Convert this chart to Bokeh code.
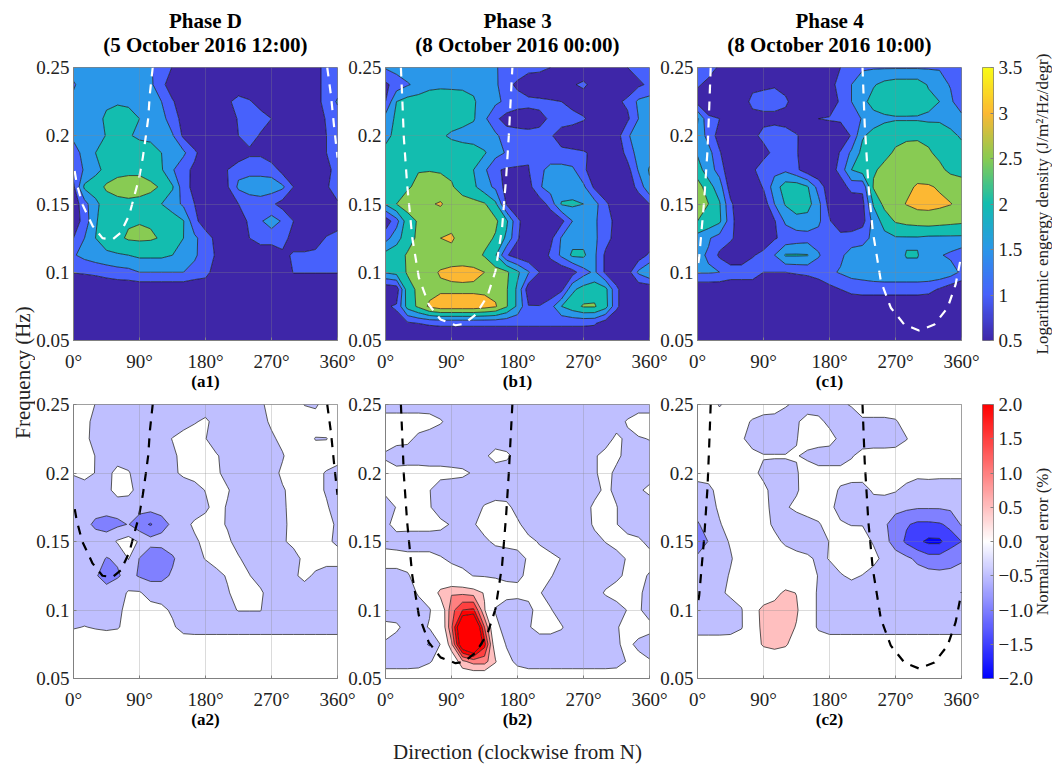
import numpy as np
from bokeh.embed import file_html
from bokeh.layouts import column, row
from bokeh.models import FixedTicker, LinearColorMapper, Title
from bokeh.plotting import figure
from bokeh.resources import INLINE

DIRS = list(range(0, 361, 15))
FREQ = [.25, .2375, .225, .2125, .2, .1875, .175, .1625, .15, .1375, .125, .1125, .1, .0875, .075, .0625, .05]

A1 = [
 [1.7,1.8,1.8,1.8,1.8,1.8,1.7,1.55,1.25,.98,.6,.6,.6,.6,.6,.6,.6,.6,.6,.6,.6,.6,.8,1.2,1.2],
 [1.45,1.7,1.8,1.8,1.8,1.8,1.75,1.6,1.15,.7,.6,.6,.6,.6,.6,.6,.6,.6,.6,.6,.6,.6,.8,1.2,1.3],
 [1.6,1.7,1.85,1.95,1.95,1.9,1.8,1.7,1.5,1.05,.7,.6,.6,.6,.9,1.2,1.05,.8,.6,.6,.6,.6,.8,1.2,1.55],
 [1.6,1.7,1.9,2.05,2.2,2.2,2.0,1.8,1.7,1.2,.85,.6,.6,.6,.7,1.05,1.25,1.2,1.0,.7,.6,.6,.7,1.05,1.3],
 [1.6,1.7,1.85,2.02,2.2,2.05,1.9,1.85,1.75,1.55,.9,.6,.6,.6,.6,1.0,1.2,.95,.6,.6,.6,.6,.7,1.0,1.2],
 [1.3,1.65,2.0,2.15,2.3,2.3,2.3,2.25,2.0,1.75,1.6,1.1,.7,.6,.6,.6,.9,.9,.6,.6,.6,.6,.75,1.0,1.3],
 [1.2,1.55,1.9,2.1,2.3,2.35,2.4,2.3,2.05,1.55,1.15,.9,.6,.75,1.0,1.35,1.35,1.35,1.3,.8,.6,.6,.6,.85,1.2],
 [.9,2.1,2.2,2.6,2.75,2.8,2.7,2.6,2.45,2.05,1.2,.85,.6,.6,.95,1.6,1.75,1.75,1.75,1.6,1.0,.6,.6,.95,1.2],
 [.7,1.3,1.9,2.2,2.3,2.35,2.35,2.3,2.0,1.75,1.4,1.0,.6,.6,.85,1.0,1.2,1.3,1.1,.8,.6,.6,.6,.6,.95],
 [.7,1.2,1.95,2.25,2.35,2.45,2.48,2.45,2.35,2.25,2.02,1.15,.7,.6,.6,.7,1.1,1.45,1.7,1.45,1.0,.7,.6,.6,.6],
 [1.0,1.5,2.0,2.25,2.4,2.56,2.58,2.56,2.46,2.2,2.0,1.6,1.25,.85,.6,.6,1.0,1.25,1.25,1.2,.8,.6,.7,1.05,1.3],
 [1.45,1.65,1.8,1.9,1.95,2.0,2.1,2.1,2.1,2.0,1.85,1.6,1.2,.95,.6,.6,.6,.6,.6,.9,1.05,1.1,1.15,1.25,1.3],
 [1.02,1.05,1.1,1.2,1.3,1.35,1.5,1.5,1.5,1.5,1.5,1.3,1.2,.7,.6,.6,.6,.6,.6,.7,1.02,1.02,1.02,1.02,1.02],
 [.6]*25, [.6]*25, [.6]*25, [.6]*25,
]

B1 = [
 [1.55,1.7,1.8,1.9,1.9,1.85,1.85,1.8,1.75,1.7,1.55,1.3,1.3,1.2,1.15,1.0,.7,.6,.6,.6,.7,.85,1.0,1.2,1.3],
 [.9,1.2,1.45,1.65,1.85,1.9,1.9,1.9,1.9,1.85,1.6,1.15,.9,.6,.6,.6,.6,.95,1.1,.8,.6,.6,.7,.9,1.1],
 [1.0,2.0,2.2,2.25,2.3,2.3,2.25,2.2,2.05,1.8,1.6,1.4,1.2,1.15,1.1,1.05,1.0,.8,.7,.65,.7,.9,1.1,1.6,1.7],
 [1.7,2.1,2.3,2.3,2.3,2.3,2.3,2.2,2.05,1.6,1.1,.8,.75,.75,.9,1.05,1.2,1.2,1.05,.8,.7,.7,.9,1.5,1.7],
 [1.9,2.1,2.2,2.25,2.3,2.1,1.9,1.8,1.75,1.7,1.6,1.25,1.2,1.15,1.1,1.05,.8,.65,.6,.6,.6,.75,1.45,1.7,1.75],
 [2.1,2.15,2.2,2.3,2.35,2.35,2.35,2.3,2.25,2.05,1.7,1.45,1.2,1.05,1.1,1.1,1.1,1.1,1.05,.9,.65,.6,1.2,1.7,1.8],
 [2.1,2.2,2.4,2.48,2.48,2.45,2.4,2.3,2.0,1.6,1.05,.95,.95,.98,1.35,1.7,1.7,1.6,1.1,.7,.6,.6,.8,1.55,2.05],
 [2.1,2.2,2.45,2.6,2.7,2.7,2.55,2.3,2.1,1.7,1.4,.8,.6,.8,1.45,1.7,1.7,1.7,1.6,.9,.6,.6,.7,1.15,1.9],
 [2.05,2.5,2.7,2.8,2.95,3.05,2.8,2.7,2.65,2.55,2.1,.95,.6,.6,.7,1.2,2.05,2.1,2.0,1.7,1.1,.7,.6,.7,1.0],
 [.7,1.3,2.3,2.55,2.65,2.7,2.75,2.75,2.7,2.7,2.6,2.1,1.1,.7,.6,.6,.85,1.5,1.9,1.6,1.15,.9,.6,.6,.7],
 [1.3,1.8,2.3,2.6,2.7,3.0,3.1,2.7,2.7,2.65,2.45,1.9,1.05,.65,.6,.85,1.55,1.8,1.8,1.6,1.2,.8,.6,.6,.6],
 [2.2,2.3,2.55,2.7,2.7,2.7,2.75,2.75,2.7,2.45,2.05,1.05,.75,.6,.6,1.1,1.6,2.1,2.1,1.6,.9,.65,.6,.7,1.1],
 [2.05,2.2,2.55,2.65,2.85,3.05,3.12,3.15,3.12,3.0,2.7,2.6,2.1,1.55,1.0,.65,.6,.8,1.3,1.6,.9,.65,.75,1.6,2.0],
 [.6,.7,2.3,2.6,2.8,2.9,2.9,2.9,2.9,2.9,2.85,2.55,1.9,.7,.6,.6,.85,1.9,2.2,2.3,2.15,1.1,.6,.6,.6],
 [.95,1.05,2.2,2.6,3.1,3.3,3.3,3.3,3.3,3.2,3.05,2.55,1.9,1.02,1.02,1.3,2.0,2.3,2.55,2.55,2.2,1.1,.6,.6,.6],
 [.85,.85,.9,1.0,1.05,1.08,1.08,1.08,1.08,1.08,1.08,1.08,1.08,1.08,1.08,1.08,1.08,1.08,1.08,1.05,.7,.6,.6,.6,.6],
 [.6]*25,
]

C1 = [
 [1.2,1.15,.95,.6,.6,.6,.6,.6,.6,.6,.6,.6,.6,1.0,1.3,1.45,1.45,1.45,1.45,1.45,1.45,1.45,1.45,1.35,1.2],
 [1.05,.9,.6,.6,.6,.85,.9,.95,.8,.6,.6,.6,.7,1.3,1.5,1.7,1.95,2.15,2.25,2.25,2.25,1.95,1.75,1.45,1.1],
 [.8,.6,.6,.6,.7,1.15,1.2,1.2,1.1,.7,.6,.6,.6,1.1,1.5,1.85,2.2,2.3,2.3,2.3,2.25,2.15,2.0,1.65,1.0],
 [2.05,1.1,1.0,.6,.6,.8,.85,.85,.8,.6,.75,1.0,1.05,1.1,1.2,1.55,1.8,1.9,1.95,1.95,1.95,1.9,1.9,1.85,1.75],
 [1.9,1.3,.8,.6,.6,.85,1.15,1.25,1.2,1.05,.7,.6,.6,.6,1.05,1.95,2.15,2.3,2.4,2.4,2.4,2.4,2.35,2.1,1.95],
 [1.95,1.7,1.05,.6,.6,.6,.8,1.15,1.3,1.05,.6,.6,.6,1.05,1.6,2.15,2.3,2.4,2.55,2.7,2.75,2.55,2.4,2.3,2.15],
 [2.2,1.75,1.3,.6,.6,.9,1.3,1.35,1.4,1.1,.7,.6,.7,1.2,2.0,2.25,2.45,2.6,2.7,2.75,2.8,2.7,2.6,2.4,2.35],
 [2.75,2.2,1.75,.75,.6,.65,1.05,1.75,2.25,2.3,2.05,1.3,.7,.7,1.2,1.1,2.55,2.7,2.8,2.9,3.05,3.05,2.95,2.8,2.7],
 [2.8,2.5,2.05,1.1,.6,.6,.7,1.5,2.05,2.3,2.2,1.65,.8,.6,.6,.85,2.05,2.65,2.85,3.02,3.15,3.15,3.1,3.02,2.85],
 [2.5,2.35,2.1,1.2,.6,.6,.6,.95,1.6,1.8,1.8,1.6,1.05,.6,.6,.8,1.7,2.2,2.55,2.65,2.7,2.75,2.7,2.65,2.6],
 [1.8,1.55,1.3,1.1,.7,.6,.65,.95,1.15,1.25,1.3,1.3,1.15,1.2,1.25,1.35,1.6,1.85,1.95,1.95,1.95,1.9,1.9,1.9,1.9],
 [1.6,1.45,.9,.6,.6,.95,1.15,1.5,2.05,2.05,2.03,1.55,1.2,1.4,1.7,1.7,1.7,1.75,1.85,2.02,2.02,1.8,1.55,1.4,1.2],
 [1.55,1.55,1.5,1.3,1.3,1.3,1.0,1.0,1.0,1.05,1.1,1.2,1.4,1.55,1.7,1.75,1.85,1.9,1.9,1.9,1.9,1.9,1.9,1.75,1.4],
 [.6,.6,.6,.6,.6,.6,.6,.6,.6,.6,.6,.7,.85,1.0,1.15,1.2,1.2,1.2,1.2,1.2,1.2,1.15,.95,.7,.6],
 [.6]*25, [.6]*25, [.6]*25,
]

A2 = [
 [-.2,-.2,-.52,-.8,-.8,-.8,-.8,-.8,-.8,-.8,-.8,-.8,-.8,-.8,-.8,-.8,-.8,-.6,-.3,-.2,-.2,-.52,-.6,-.2,-.2],
 [-.2,-.3,-.7,-.8,-.8,-.8,-.8,-.8,-.8,-.8,-.8,-.55,-.4,-.7,-.8,-.8,-.8,-.7,-.4,-.2,-.2,-.2,-.2,-.2,-.2],
 [-.2,-.35,-.7,-.8,-.8,-.8,-.8,-.8,-.7,-.48,-.2,-.2,-.48,-.8,-.8,-.8,-.8,-.8,-.6,-.35,-.2,-.2,-.53,-.52,-.2],
 [-.2,-.2,-.52,-.75,-.8,-.8,-.8,-.8,-.8,-.6,-.35,-.2,-.25,-.45,-.7,-.8,-.8,-.8,-.8,-.55,-.2,-.2,-.2,-.2,-.2],
 [-.45,-.3,-.52,-.7,-.3,-.45,-.8,-.8,-.8,-.6,-.4,-.3,-.3,-.4,-.7,-.8,-.8,-.8,-.7,-.4,-.3,-.3,-.35,-.55,-.75],
 [-.8,-.8,-.8,-.65,-.3,-.35,-.7,-.8,-.8,-.8,-.8,-.7,-.48,-.3,-.45,-.75,-.8,-.8,-.8,-.55,-.35,-.3,-.35,-.55,-.65],
 [-.8,-.8,-.8,-.8,-.8,-.8,-.8,-.8,-.8,-.8,-.8,-.8,-.6,-.3,-.55,-.8,-.8,-.8,-.8,-.55,-.4,-.3,-.3,-.45,-.7],
 [-.8,-.85,-1.1,-1.2,-1.1,-.98,-1.3,-1.55,-1.2,-.9,-.7,-.4,-.3,-.35,-.55,-.8,-.8,-.8,-.8,-.6,-.35,-.3,-.3,-.4,-.55],
 [-.8,-.75,-.75,-.75,-.45,-.3,-.55,-.8,-.8,-.8,-.75,-.6,-.35,-.3,-.4,-.7,-.8,-.8,-.8,-.55,-.4,-.3,-.3,-.4,-.6],
 [-.8,-.8,-.85,-1.02,-.95,-.48,-1.02,-1.4,-1.35,-1.05,-.8,-.65,-.48,-.3,-.3,-.45,-.7,-.8,-.8,-.8,-.65,-.4,-.25,-.25,-.25],
 [-.85,-.85,-.95,-1.2,-1.05,-.85,-1.05,-1.15,-1.1,-.95,-.85,-.8,-.75,-.65,-.45,-.3,-.48,-.75,-.8,-.8,-.6,-.35,-.6,-.8,-.8],
 [-.8,-.8,-.8,-.8,-.7,-.45,-.45,-.7,-.8,-.8,-.8,-.8,-.8,-.8,-.55,-.3,-.3,-.4,-.8,-.8,-.8,-.8,-.8,-.8,-.8],
 [-.8,-.8,-.8,-.8,-.65,-.3,-.3,-.3,-.35,-.6,-.8,-.8,-.8,-.8,-.6,-.48,-.48,-.48,-.8,-.8,-.8,-.8,-.8,-.8,-.8],
 [-.55,-.48,-.55,-.6,-.55,-.3,-.3,-.3,-.3,-.4,-.75,-.8,-.8,-.8,-.8,-.8,-.8,-.8,-.8,-.8,-.8,-.8,-.8,-.8,-.8],
 [-.1]*25, [-.1]*25, [-.1]*25,
]

B2 = [
 [-.8]*25,
 [-.2,-.2,-.2,-.2,-.25,-.45,-.7,-.8,-.8,-.8,-.8,-.8,-.8,-.8,-.8,-.8,-.8,-.8,-.8,-.8,-.8,-.7,-.45,-.2,-.2],
 [-.35,-.3,-.35,-.65,-.8,-.8,-.8,-.8,-.8,-.8,-.8,-.8,-.8,-.8,-.8,-.8,-.8,-.8,-.8,-.8,-.7,-.4,-.6,-.55,-.48],
 [-.55,-.8,-.8,-.8,-.8,-.8,-.8,-.8,-.8,-.6,-.3,-.4,-.65,-.8,-.8,-.8,-.8,-.8,-.7,-.55,-.35,-.4,-.65,-.7,-.7],
 [-.35,-.3,-.25,-.25,-.3,-.3,-.35,-.4,-.55,-.75,-.8,-.8,-.8,-.8,-.8,-.8,-.8,-.8,-.7,-.55,-.35,-.6,-.8,-.8,-.8],
 [-.4,-.25,-.25,-.3,-.48,-.8,-.8,-.8,-.8,-.8,-.8,-.8,-.8,-.8,-.8,-.8,-.8,-.8,-.8,-.65,-.4,-.6,-.8,-.6,-.35],
 [-.7,-.48,-.25,-.25,-.45,-.8,-.8,-.8,-.75,-.45,-.3,-.35,-.7,-.8,-.8,-.8,-.8,-.8,-.7,-.4,-.35,-.48,-.75,-.85,-.85],
 [-.6,-.35,-.3,-.3,-.3,-.35,-.55,-.75,-.55,-.3,-.3,-.3,-.4,-.75,-.8,-.8,-.8,-.8,-.8,-.4,-.35,-.48,-.75,-.8,-.8],
 [-.65,-.7,-.8,-.8,-.8,-.8,-.8,-.8,-.75,-.6,-.4,-.35,-.35,-.35,-.55,-.75,-.8,-.8,-.8,-.7,-.48,-.3,-.3,-.4,-.65],
 [-.3,-.3,-.3,-.3,-.3,-.45,-.6,-.75,-.8,-.8,-.8,-.75,-.65,-.45,-.3,-.35,-.52,-.8,-.8,-.8,-.8,-.7,-.45,-.3,-.3],
 [-.65,-.65,-.55,-.3,-.25,-.25,-.25,-.3,-.52,-.55,-.55,-.6,-.6,-.4,-.35,-.45,-.75,-.8,-.8,-.8,-.7,-.6,-.4,-.35,-.55],
 [-.8,-.8,-.7,-.45,-.1,.7,.95,.9,.8,.45,-.2,-.3,-.35,-.4,-.45,-.75,-.8,-.8,-.8,-.7,-.45,-.3,-.3,-.4,-.7],
 [-.8,-.8,-.8,-.7,-.55,.0,1.3,2.0,2.1,.55,-.55,-.8,-.8,-.6,-.35,-.45,-.8,-.8,-.8,-.8,-.8,-.7,-.48,-.4,-.8],
 [-.35,-.4,-.7,-.7,-.45,-.1,1.4,3.5,3.8,1.5,-.3,-.8,-.75,-.55,-.3,-.3,-.45,-.8,-.8,-.8,-.8,-.55,-.3,-.3,-.3],
 [-.55,-.75,-.8,-.8,-1.05,-.48,.9,3.2,4.0,2.2,.0,-.55,-.8,-.8,-.8,-.8,-.8,-.8,-.8,-.8,-.8,-.55,-.4,-.6,-.8],
 [-.8,-.8,-.8,-.75,-.55,-.3,-.1,.9,1.2,1.2,.55,-.3,-.65,-.8,-.8,-.8,-.8,-.8,-.8,-.8,-.8,-.75,-.45,-.35,-.45],
 [-.1]*25,
]

C2 = [
 [-.2,-.2,-.55,-.3,-.2,-.2,-.2,-.2,-.45,-.6,-.7,-.7,-.7,-.6,-.45,-.2,-.2,-.2,-.2,-.2,-.2,-.2,-.2,-.2,-.2],
 [-.2,-.2,-.2,-.2,-.35,-.55,-.7,-.75,-.75,-.55,-.35,-.4,-.6,-.8,-.8,-.6,-.6,-.6,-.55,-.3,-.2,-.2,-.2,-.2,-.2],
 [-.2,-.2,-.2,-.2,-.45,-.65,-.8,-.8,-.8,-.52,-.3,-.3,-.35,-.6,-.8,-.8,-.8,-.8,-.75,-.52,-.25,-.2,-.2,-.2,-.2],
 [-.2,-.2,-.2,-.2,-.2,-.4,-.47,-.47,-.47,-.47,-.6,-.7,-.7,-.7,-.55,-.3,-.25,-.25,-.25,-.25,-.2,-.2,-.2,-.2,-.2],
 [-.25,-.25,-.2,-.2,-.2,-.4,-.6,-.65,-.65,-.55,-.25,-.35,-.35,-.35,-.25,-.2,-.2,-.2,-.2,-.2,-.35,-.35,-.35,-.35,-.35],
 [-.75,-.65,-.3,-.2,-.2,-.25,-.4,-.65,-.65,-.55,-.3,-.25,-.35,-.55,-.7,-.75,-.4,-.35,-.45,-.7,-.8,-.75,-.8,-.8,-.8],
 [-.8,-.75,-.4,-.25,-.2,-.3,-.4,-.6,-.55,-.4,-.25,-.25,-.4,-.65,-.8,-.8,-.8,-.85,-.9,-.9,-.95,-.95,-.95,-.9,-.8],
 [-1.05,-.8,-.55,-.25,-.2,-.2,-.3,-.6,-.7,-.75,-.7,-.55,-.3,-.45,-.52,-.52,-.65,-.95,-1.15,-1.45,-1.6,-1.6,-1.55,-1.4,-.95],
 [-1.3,-.98,-.7,-.45,-.2,-.2,-.2,-.35,-.6,-.75,-.8,-.75,-.48,-.25,-.25,-.3,-.55,-.85,-1.2,-1.6,-1.9,-2.1,-2.1,-1.7,-1.5],
 [-.9,-.8,-.75,-.55,-.25,-.2,-.2,-.2,-.2,-.3,-.4,-.6,-.48,-.25,-.2,-.2,-.35,-.65,-.8,-.9,-1.1,-1.3,-1.3,-1.2,-1.05],
 [-.75,-.8,-.7,-.45,-.2,-.2,-.2,-.2,-.2,-.2,-.3,-.52,-.65,-.55,-.4,-.52,-.7,-.8,-.8,-.8,-.8,-.8,-.85,-.85,-.85],
 [-.8,-.8,-.6,-.4,-.2,-.1,.0,.25,.65,.48,-.1,-.6] + [-.8]*13,
 [-.8,-.8,-.8,-.75,-.55,.2,.7,.8,.85,.6,-.1,-.6] + [-.8]*13,
 [-.85,-.85,-.85,-.8,-.55,.1,.7,.8,.8,.45,-.1,-.6] + [-.8]*13,
 [-.1,-.1,-.1,-.1,-.1,.1,.6,.75,.6,.1] + [-.1]*15,
 [-.1]*25, [-.1]*25,
]

# Ridge curves (direction in degrees, frequency in Hz)
A_MAIN_D = [108,104,102,99,94.5,89.5,83.5,76,64.5,53,39.5,26,12,4.5,0]
A_MAIN_F = [.25,.23,.2133,.201,.184,.169,.157,.142,.129,.124,.125,.134,.15,.165,.179]
A_WRAP_D = [346,351,355.5,360]
A_WRAP_F = [.25,.23,.206,.184]
B_MAIN_D = [21,23,25,29.5,36.5,45.5,59,75,95.5,107,123,139,150,159,164.5,168,173]
B_MAIN_F = [.25,.2255,.1987,.1644,.1253,.096,.0764,.0654,.0612,.0622,.069,.0825,.1009,.1326,.1693,.1987,.25]
C_WRAP_D = [18,16,13.6,9,2.3,0]
C_WRAP_F = [.25,.2207,.1889,.152,.1106,.103]
C_MAIN_D = [225,228,233,239,250,263.6,282,302,323,341,352,360]
C_MAIN_F = [.25,.2084,.1644,.1302,.0936,.074,.0617,.0573,.0617,.074,.0911,.113]

TOP_LEVELS = [.5, 1, 1.5, 2, 2.5, 3, 3.5]
TOP_FILL = ["#3E26A8", "#4761FC", "#2A97E9", "#13BDAF", "#88CB53", "#FCB833"]
ERR_LEVELS = [-2.5, -2, -1.5, -1, -.5, .5, 1, 1.5, 2, 2.5, 5]
ERR_FILL = ["#0000FF", "#4040FF", "#8080FF", "#BFBFFF", "#FFFFFF", "#FFBFBF", "#FF8080", "#FF4040", "#FF0000", "#FF0000"]
XTICKS = [0, 90, 180, 270, 360]
XLABELS = ["0°", "90°", "180°", "270°", "360°"]
YTICKS = [.05, .1, .15, .2, .25]
YLABELS = ["0.05", "0.1", "0.15", "0.2", "0.25"]
TOP_BAR_STOPS = [.5, 1, 1.5, 2, 2.5, 3, 3.5]
TOP_BAR_COLORS = ["#3E26A8", "#4761FC", "#2A97E9", "#13BDAF", "#88CB53", "#FCB833", "#F9FB15"]
TOP_TICKS = [.5, 1, 1.5, 2, 2.5, 3, 3.5]
TOP_TICK_TEXT = ["0.5", "1", "1.5", "2", "2.5", "3", "3.5"]
ERR_TICKS = [-2, -1.5, -1, -.5, 0, .5, 1, 1.5, 2]
ERR_TICK_TEXT = ["−2.0", "−1.5", "−1.0", "−0.5", "0.0", "0.5", "1.0", "1.5", "2.0"]
PHASES = ["Phase D", "Phase 3", "Phase 4"]
DATES = ["(5 October 2016 12:00)", "(8 October 2016 00:00)", "(8 October 2016 10:00)"]

SERIF = "Liberation Serif"
GREY = "#808080"
INK = "#222222"
FRAME_W, F1_H, F2_H = 264, 273, 274
CAP_H, CAP_OVER = 33, 17
TOP1, BOT1, TOP2, BOT2 = 51, 59, 13, 57
OVERLAP = 8
XLAB_H = 30
RIGHT = 20
H = CAP_H - CAP_OVER + TOP1 + F1_H + BOT1 + TOP2 + F2_H + BOT2 - OVERLAP + XLAB_H


def blend(stops, colors, n=256):
    rgb = np.array([[int(c[i:i + 2], 16) for i in (1, 3, 5)] for c in colors], float)
    xs = np.linspace(stops[0], stops[-1], n)
    ch = [np.interp(xs, stops, rgb[:, k]) for k in range(3)]
    return ["#%02X%02X%02X" % (round(r), round(g), round(b)) for r, g, b in zip(*ch)]


def style_axes(p):
    for ax in (p.xaxis[0], p.yaxis[0]):
        ax.axis_line_color = GREY
        ax.major_tick_line_color = GREY
        ax.minor_tick_line_color = None
        ax.major_tick_in, ax.major_tick_out = 3, 0
        ax.major_label_text_font = SERIF
        ax.major_label_text_font_size = "19px"
        ax.major_label_text_color = INK
    p.xaxis[0].major_label_standoff = 10
    p.yaxis[0].major_label_standoff = 4


def panel(z, levels, fill, curves, dash_color, first, top, tag, title=None):
    frame_h = F1_H if top else F2_H
    btop, bbot = (TOP1, BOT1) if top else (TOP2, BOT2)
    bleft = 44 if first else 48
    mtop = -CAP_OVER if top else -OVERLAP
    p = figure(width=bleft + FRAME_W + RIGHT, height=btop + frame_h + bbot,
               x_range=(0, 360), y_range=(.05, .25), output_backend="svg", toolbar_location=None,
               min_border_left=bleft, min_border_right=RIGHT, min_border_top=btop, min_border_bottom=bbot,
               border_fill_color=None, background_fill_color=None,
               outline_line_color=GREY, outline_line_width=1,
               margin=(mtop, 0, 0, -6) if first else (mtop, 0, 0, -RIGHT))
    arr = np.array(z, float)[::-1]
    p.contour(DIRS, FREQ[::-1], arr, levels, fill_color=fill, line_color="#111111", line_width=0.7)
    for d, f in curves:
        p.line(d, f, line_color=dash_color, line_width=2.2, line_dash="9 8")
    p.xaxis.ticker = FixedTicker(ticks=XTICKS)
    p.yaxis.ticker = FixedTicker(ticks=YTICKS)
    p.xaxis.major_label_overrides = dict(zip(XTICKS, XLABELS))
    p.yaxis.major_label_overrides = dict(zip(YTICKS, YLABELS))
    p.xgrid.ticker = FixedTicker(ticks=XTICKS)
    p.ygrid.ticker = FixedTicker(ticks=YTICKS)
    p.grid.grid_line_color = "#888888"
    p.grid.grid_line_alpha = 0.3
    p.grid.level = "overlay"
    style_axes(p)
    ax = p.xaxis[0]
    ax.axis_label = tag
    ax.axis_label_text_font = SERIF
    ax.axis_label_text_font_size = "17px"
    ax.axis_label_text_font_style = "bold"
    ax.axis_label_text_color = "#000000"
    ax.axis_label_standoff = -3
    if title:
        p.add_layout(Title(text=title, align="center", text_font=SERIF, text_font_size="21px",
                           text_font_style="bold", text_color="#000000", standoff=21), "above")
    return p


def strip(width, height, left, right, top, bottom, margin=(0, 0, 0, 0)):
    p = figure(width=width, height=height, x_range=(0, 1), y_range=(0, 1), output_backend="svg",
               toolbar_location=None, min_border_left=left, min_border_right=right, min_border_top=top,
               min_border_bottom=bottom, outline_line_color=None, x_axis_type=None, y_axis_type=None,
               border_fill_color=None, background_fill_color=None, margin=margin)
    p.grid.visible = False
    return p


def cap(text, first):
    bleft = 44 if first else 48
    p = strip(bleft + FRAME_W + RIGHT, CAP_H, bleft, RIGHT, CAP_H - 1, 0,
              (0, 0, 0, -6) if first else (0, 0, 0, -RIGHT))
    p.add_layout(Title(text=text, align="center", text_font=SERIF, text_font_size="21px",
                       text_font_style="bold", text_color="#000000", standoff=0), "above")
    return p


def bar(low, high, palette, ticks, texts, top):
    frame_h = F1_H if top else F2_H
    btop, bbot = (TOP1, BOT1) if top else (TOP2, BOT2)
    p = figure(width=1 + 11 + 46, height=btop + frame_h + bbot, x_range=(0, 1), y_range=(low, high),
               output_backend="svg", toolbar_location=None, y_axis_location="right",
               min_border_left=1, min_border_right=46, min_border_top=btop, min_border_bottom=bbot,
               border_fill_color=None, outline_line_color=GREY, x_axis_type=None,
               margin=(-CAP_OVER if top else -OVERLAP, 0, 0, 0))
    grad = np.linspace(low, high, 256).reshape(-1, 1)
    p.image(image=[grad], x=0, y=low, dw=1, dh=high - low,
            color_mapper=LinearColorMapper(palette=palette, low=low, high=high))
    p.grid.visible = False
    ax = p.yaxis[0]
    ax.ticker = FixedTicker(ticks=ticks)
    ax.major_label_overrides = dict(zip(ticks, texts))
    ax.axis_line_color = None
    ax.major_tick_line_color = GREY
    ax.minor_tick_line_color = None
    ax.major_tick_in, ax.major_tick_out = 3, 0
    ax.major_label_standoff = 5
    ax.major_label_text_font = SERIF
    ax.major_label_text_font_size = "19px"
    ax.major_label_text_color = INK
    return p


def side_text(text, size, width, top, frame_h, bottom, margin=(0, 0, 0, 0)):
    p = figure(width=width, height=top + frame_h + bottom, x_range=(0, 1), y_range=(0, 1), output_backend="svg",
               toolbar_location=None, min_border_left=width - 1, min_border_right=0, min_border_top=top,
               min_border_bottom=bottom, outline_line_color=None, x_axis_type=None,
               border_fill_color=None, background_fill_color=None, margin=margin)
    p.grid.visible = False
    ax = p.yaxis[0]
    ax.ticker = FixedTicker(ticks=[])
    ax.axis_line_color = None
    ax.major_tick_line_color = None
    ax.minor_tick_line_color = None
    ax.major_tick_in, ax.major_tick_out = 0, 0
    ax.major_label_standoff = 0
    ax.axis_label = text
    ax.axis_label_standoff = 0
    ax.axis_label_text_font = SERIF
    ax.axis_label_text_font_size = size
    ax.axis_label_text_font_style = "normal"
    ax.axis_label_text_color = INK
    return p


a_c = [(A_MAIN_D, A_MAIN_F), (A_WRAP_D, A_WRAP_F)]
b_c = [(B_MAIN_D, B_MAIN_F)]
c_c = [(C_WRAP_D, C_WRAP_F), (C_MAIN_D, C_MAIN_F)]

caps = [cap(PHASES[0], True), cap(PHASES[1], False), cap(PHASES[2], False)]
a1 = panel(A1, TOP_LEVELS, TOP_FILL, a_c, "white", True, True, "(a1)", DATES[0])
b1 = panel(B1, TOP_LEVELS, TOP_FILL, b_c, "white", False, True, "(b1)", DATES[1])
c1 = panel(C1, TOP_LEVELS, TOP_FILL, c_c, "white", False, True, "(c1)", DATES[2])
a2 = panel(A2, ERR_LEVELS, ERR_FILL, a_c, "black", True, False, "(a2)")
b2 = panel(B2, ERR_LEVELS, ERR_FILL, b_c, "black", False, False, "(b2)")
c2 = panel(C2, ERR_LEVELS, ERR_FILL, c_c, "black", False, False, "(c2)")

xlab = strip(385 - 35 + FRAME_W, XLAB_H, 385 - 35, 0, 0, XLAB_H - 1)
xlab.add_layout(Title(text="Direction (clockwise from N)", align="center", text_font=SERIF, text_font_size="21px",
                      text_font_style="normal", text_color=INK, standoff=4), "below")

top_pal = blend(TOP_BAR_STOPS, TOP_BAR_COLORS)
err_pal = blend([-2, 0, 2], ["#0000FF", "#FFFFFF", "#FF0000"])
cb1 = bar(.5, 3.5, top_pal, TOP_TICKS, TOP_TICK_TEXT, True)
cb2 = bar(-2, 2, err_pal, ERR_TICKS, ERR_TICK_TEXT, False)
rl1 = side_text("Logarithmic engergy density (J/m²/Hz/degr)", "17px", 23, TOP1, F1_H, BOT1, (-CAP_OVER, 0, 0, -10))
rl2 = side_text("Normalized error (%)", "17px", 23, TOP2, F2_H, BOT2, (-OVERLAP, 0, 0, -10))
ylab = side_text("Frequency (Hz)", "21px", 35, 322, 100, H - 422)

grid = column(row(*caps, spacing=0), row(a1, b1, c1, cb1, rl1, spacing=0), row(a2, b2, c2, cb2, rl2, spacing=0),
              xlab, spacing=0)
page = row(ylab, grid, spacing=0)
open("out.html", "w").write(file_html(page, INLINE))
